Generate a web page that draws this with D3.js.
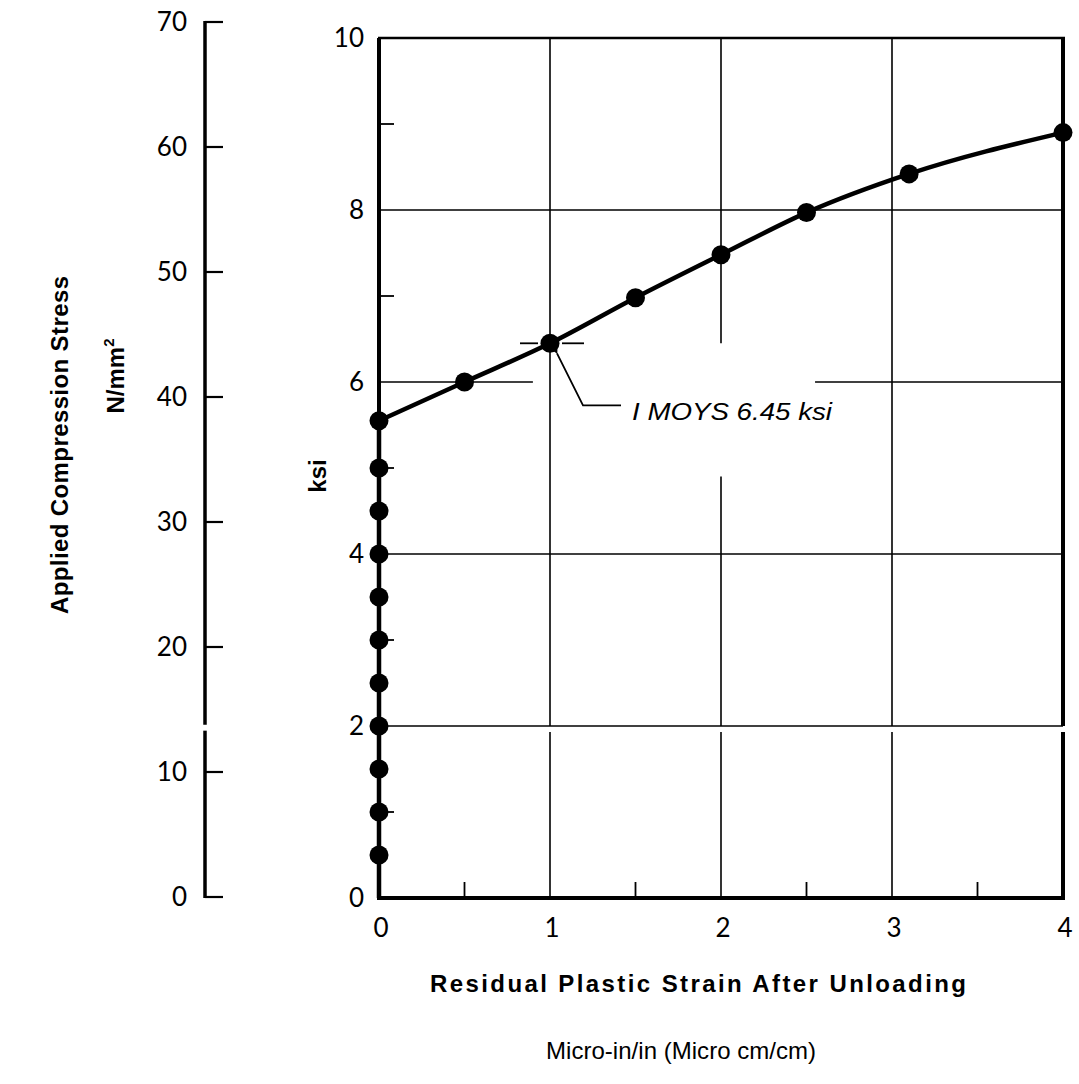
<!DOCTYPE html>
<html><head><meta charset="utf-8">
<script src="https://cdn.jsdelivr.net/npm/d3@7"></script>
<style>body{margin:0;background:#fff}</style>
</head><body><svg id="c" width="1079" height="1084"></svg>
<script>
// ---- data ----
const strain    = [0,0,0,0,0,0,0,0,0,0,0,0.5,1,1.5,2,2.5,3.1,4];
const stressKsi = [0.5,1,1.5,2,2.5,3,3.5,4,4.5,5,5.55,6.0,6.45,6.98,7.48,7.97,8.42,8.9];
const xTicks = [0,1,2,3,4];
const xMinorTicks = [0.5,1.5,2.5,3.5];
const ksiTicks = [0,2,4,6,8,10];
const ksiMinorTicks = [1,3,5,7,9];
const nTicks = [0,10,20,30,40,50,60,70];
const moysStrain = 1, moysKsi = 6.45;
const moysLabel = "I MOYS 6.45 ksi";
const breakKsi = [1.93, 2.0];

const svg = d3.select("#c");
const x = d3.scaleLinear().domain([0,4]).range([379,1063]);
const y = d3.scaleLinear().domain([0,10]).range([898,38]);
const yN = d3.scaleLinear().domain([0,70]).range([897,22]);
const KSI2N = 6.895;

const tickFont = "Lato, 'DejaVu Sans', sans-serif";
const titleFont = "'Liberation Sans', Arial, sans-serif";

function seg(x1,y1,x2,y2,w){
  svg.append("line").attr("x1",x1).attr("y1",y1).attr("x2",x2).attr("y2",y2)
    .attr("stroke","#000").attr("stroke-width",w).attr("stroke-linecap","butt");
}
function vline(xv, from, to, w){
  const parts = [[from, breakKsi[0]],[breakKsi[1], to]];
  parts.forEach(p=>{ if(p[1]>p[0]) seg(x(xv), y(p[0]), x(xv), y(p[1]), w); });
}

// ---- grid ----
[2,4,8].forEach(v=>seg(x(0),y(v),x(4),y(v),1.6));
seg(x(0),y(6),x(0.9),y(6),1.6);
seg(x(2.55),y(6),x(4),y(6),1.6);
vline(1,0,10,1.6);
vline(3,0,10,1.6);
seg(x(2),y(10),x(2),y(moysKsi),1.6);
seg(x(2),y(4.9),x(2),y(breakKsi[1]),1.6);
seg(x(2),y(breakKsi[0]),x(2),y(0),1.6);

// ---- frame ----
seg(x(0)-1,y(10),x(4)+2,y(10),2.5);
vline(4,0,10,4);
vline(0,0,10,4);
seg(x(0)-2,y(0),x(4)+2,y(0),4);

ksiMinorTicks.forEach(v=>seg(x(0),y(v),x(0)+15,y(v),1.8));
xMinorTicks.forEach(v=>seg(x(v),y(0),x(v),y(0)-16,1.8));

svg.append("g").selectAll("text").data(ksiTicks).join("text")
  .attr("x",364).attr("y",d=>y(d)).attr("dy","0.36em")
  .attr("text-anchor","end").attr("font-family",tickFont).attr("font-size",26)
  .text(d=>d);
svg.append("g").selectAll("text").data(xTicks).join("text")
  .attr("x",d=>x(d)+2).attr("y",937)
  .attr("text-anchor","middle").attr("font-family",tickFont).attr("font-size",26)
  .text(d=>d);

// ---- left N/mm2 axis ----
const axX = 205;
seg(axX,yN(70)-1,axX,yN(breakKsi[1]*KSI2N),3.5);
seg(axX,yN(breakKsi[0]*KSI2N),axX,yN(0)+1,3.5);
nTicks.forEach(v=>seg(axX,yN(v),axX+18,yN(v),2.2));
svg.append("g").selectAll("text").data(nTicks).join("text")
  .attr("x",187).attr("y",d=>yN(d)).attr("dy","0.36em")
  .attr("text-anchor","end").attr("font-family",tickFont).attr("font-size",26)
  .text(d=>d);

// ---- data ----
const pts = strain.map((s,i)=>[s,stressKsi[i]]);
const stack = pts.filter(p=>p[0]===0);
const upper = pts.filter((p,i)=> i>=stack.length-1);
svg.append("path").datum([[0,0]].concat(stack))
  .attr("d",d3.line().x(d=>x(d[0])).y(d=>y(d[1])))
  .attr("fill","none").attr("stroke","#000").attr("stroke-width",4.5);
svg.append("path").datum(upper)
  .attr("d",d3.line().x(d=>x(d[0])).y(d=>y(d[1])).curve(d3.curveMonotoneX))
  .attr("fill","none").attr("stroke","#000").attr("stroke-width",4.5);
svg.append("g").selectAll("circle").data(pts).join("circle")
  .attr("cx",d=>x(d[0])).attr("cy",d=>y(d[1])).attr("r",9.5).attr("fill","#000");

// ---- annotation ----
const mx = x(moysStrain), my = y(moysKsi);
seg(mx-30,my,mx-12,my,1.8);
seg(mx+12,my,mx+34,my,1.8);
svg.append("defs").append("marker").attr("id","ah").attr("viewBox","0 0 10 10")
  .attr("refX",1).attr("refY",5).attr("markerWidth",5).attr("markerHeight",5)
  .attr("orient","auto-start-reverse")
  .append("path").attr("d","M10,0 L0,5 L10,10 z").attr("fill","#000");
svg.append("path")
  .attr("d",`M${mx+7},${my+10} L${mx+33},${my+62} L${mx+71},${my+62}`)
  .attr("fill","none").attr("stroke","#000").attr("stroke-width",1.8)
  .attr("marker-start","url(#ah)");
svg.append("text").attr("x",mx+82).attr("y",my+77)
  .attr("font-family",titleFont).attr("font-style","italic").attr("font-size",24)
  .attr("textLength",200).attr("lengthAdjust","spacingAndGlyphs")
  .text(moysLabel);

// ---- titles ----
svg.append("text").attr("transform","translate(68,445) rotate(-90)")
  .attr("text-anchor","middle").attr("font-family",titleFont).attr("font-weight","bold")
  .attr("font-size",24).attr("textLength",338).attr("lengthAdjust","spacing")
  .text("Applied Compression Stress");
const nt = svg.append("text").attr("transform","translate(124,376) rotate(-90)")
  .attr("text-anchor","middle").attr("font-family",titleFont).attr("font-weight","bold")
  .attr("font-size",24);
nt.append("tspan").text("N/mm");
nt.append("tspan").attr("dy",-10).attr("font-size",15).text("2");
svg.append("text").attr("transform","translate(326,476) rotate(-90)")
  .attr("text-anchor","middle").attr("font-family",titleFont).attr("font-weight","bold")
  .attr("font-size",24).text("ksi");
svg.append("text").attr("x",698).attr("y",992)
  .attr("text-anchor","middle").attr("font-family",titleFont).attr("font-weight","bold")
  .attr("font-size",24).attr("textLength",536).attr("lengthAdjust","spacing")
  .text("Residual Plastic Strain After Unloading");
svg.append("text").attr("x",681).attr("y",1059)
  .attr("text-anchor","middle").attr("font-family",titleFont)
  .attr("font-size",24).attr("textLength",270).attr("lengthAdjust","spacing")
  .text("Micro-in/in (Micro cm/cm)");
</script></body></html>
